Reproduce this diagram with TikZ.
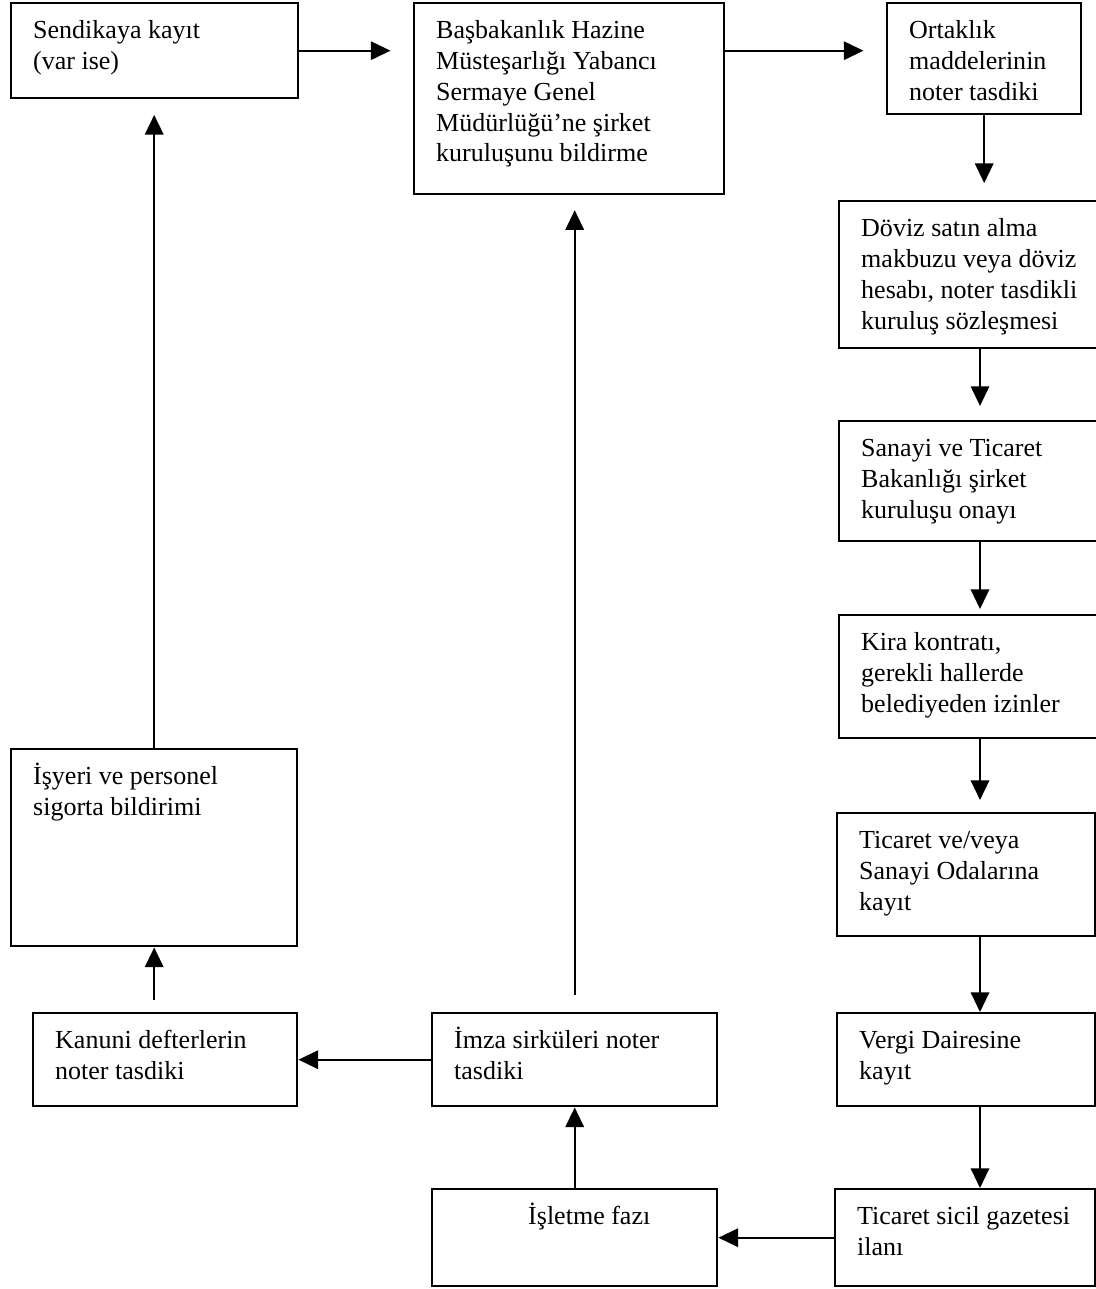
\documentclass[tikz,border=0pt]{standalone}
\usepackage{fontspec}
\setmainfont{Liberation Serif}
\usetikzlibrary{arrows.meta}

\newcommand{\stagetext}[3]{\parbox[c][\dimexpr0.025cm*#2-19pt\relax][t]{\dimexpr0.025cm*#1\relax}{\raggedright\leftskip=0.55cm\strut #3}}

\tikzset{
    stage/.style={draw, line width=1.7pt, anchor=north west, inner xsep=0pt, inner ysep=9.5pt,
        font=\fontsize{18.5}{22}\selectfont},
    flow/.style={-{Triangle[length=14pt,width=13pt]}, line width=1.7pt}
}

\begin{document}
\begin{tikzpicture}[x=0.025cm, y=-0.025cm]

        \useasboundingbox (0,0) rectangle (1096,1289);

        \node[stage] (sendika) at (10,2) {\stagetext{287}{95}{Sendikaya kayıt\\(var ise)}};
        \node[stage] (bashaz) at (413,2) {\stagetext{310}{191}{Başbakanlık Hazine\\Müsteşarlığı Yabancı\\Sermaye Genel\\Müdürlüğü’ne şirket\\kuruluşunu bildirme}};
        \node[stage] (ortak) at (886,2) {\stagetext{194}{111}{Ortaklık\\maddelerinin\\noter tasdiki}};
        \node[stage] (doviz) at (838,200) {\stagetext{264}{147}{Döviz satın alma\\makbuzu veya döviz\\hesabı, noter tasdikli\\kuruluş sözleşmesi}};
        \node[stage] (sanayi) at (838,420) {\stagetext{264}{120}{Sanayi ve Ticaret\\Bakanlığı şirket\\kuruluşu onayı}};
        \node[stage] (kira) at (838,614) {\stagetext{264}{123}{Kira kontratı,\\gerekli hallerde\\belediyeden izinler}};
        \node[stage] (ticoda) at (836,812) {\stagetext{258}{123}{Ticaret ve/veya\\Sanayi Odalarına\\kayıt}};
        \node[stage] (vergi) at (836,1012) {\stagetext{258}{93}{Vergi Dairesine\\kayıt}};
        \node[stage] (sicil) at (834,1188) {\stagetext{260}{97}{Ticaret sicil gazetesi\\ilanı}};
        \node[stage] (isletme) at (431,1188) {\stagetext{285}{97}{\hspace*{1.85cm}İşletme fazı}};
        \node[stage] (imza) at (431,1012) {\stagetext{285}{93}{İmza sirküleri noter\\tasdiki}};
        \node[stage] (kanuni) at (32,1012) {\stagetext{264}{93}{Kanuni defterlerin\\noter tasdiki}};
        \node[stage] (isyeri) at (10,748) {\stagetext{286}{197}{İşyeri ve personel\\sigorta bildirimi}};

        \coordinate (rcol) at (980,0);

        \draw[flow, shorten >=16pt] (sendika.east) -- (sendika.east -| bashaz.west);
        \draw[flow, shorten >=16pt] (sendika.east -| bashaz.east) -- (sendika.east -| ortak.west);
        \draw[flow, shorten >=12pt] (ortak.south) -- (ortak.south |- doviz.north);
        \draw[flow, shorten >=10pt] (doviz.south -| rcol) -- (sanayi.north -| rcol);
        \draw[flow, shorten >=3.5pt] (sanayi.south -| rcol) -- (kira.north -| rcol);
        \draw[flow, shorten >=8.5pt] (kira.south -| rcol) -- (ticoda.north -| rcol);
        \draw[flow] (ticoda.south -| rcol) -- (vergi.north -| rcol);
        \draw[flow] (vergi.south -| rcol) -- (sicil.north -| rcol);
        \draw[flow] (sicil.west) -- (sicil.west -| isletme.east);
        \draw[flow] (isletme.north) -- (imza.south);
        \draw[flow, shorten <=12pt, shorten >=10.5pt] (imza.north) -- (imza.north |- bashaz.south);
        \draw[flow] (imza.west) -- (imza.west -| kanuni.east);
        \draw[flow, shorten <=8.5pt] (kanuni.north -| isyeri.south) -- (isyeri.south);
        \draw[flow, shorten >=11pt] (isyeri.north) -- (isyeri.north |- sendika.south);

\end{tikzpicture}
\end{document}
